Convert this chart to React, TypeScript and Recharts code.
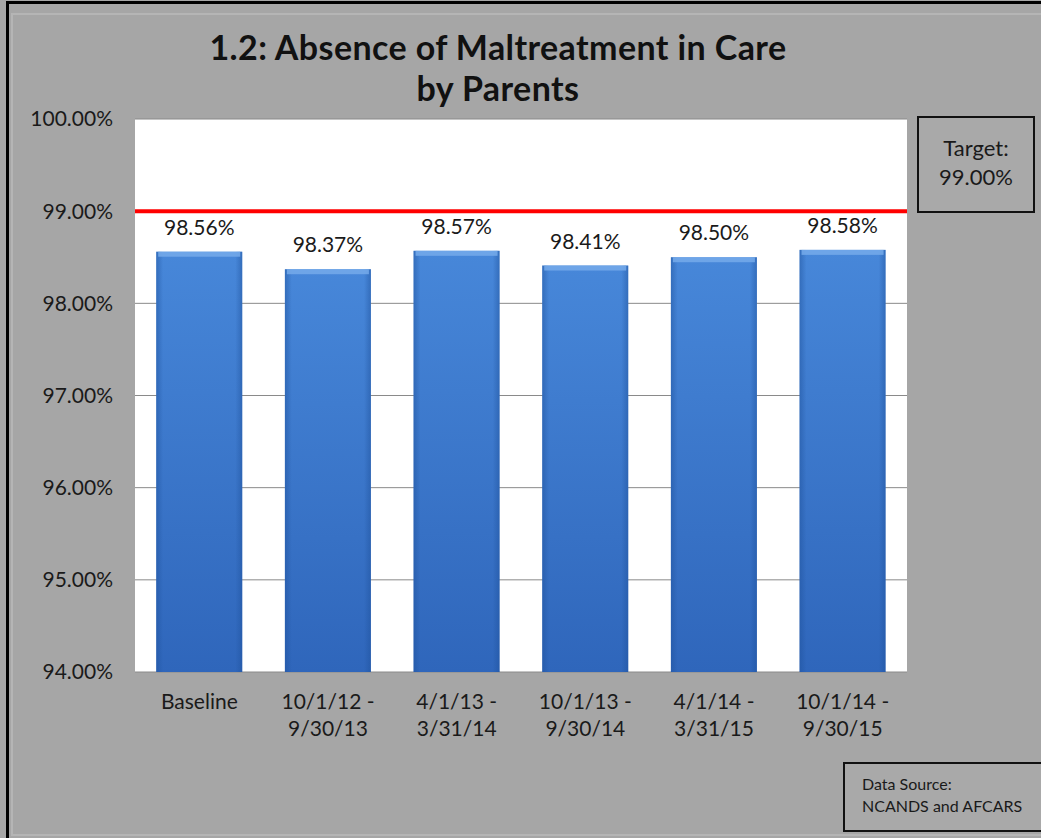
import React from "react";
import { BarChart, Bar, XAxis, YAxis, CartesianGrid, ReferenceLine, LabelList } from "recharts";

const categories = ["Baseline", "10/1/12 -\n9/30/13", "4/1/13 -\n3/31/14", "10/1/13 -\n9/30/14", "4/1/14 -\n3/31/15", "10/1/14 -\n9/30/15"];
const values = [98.56, 98.37, 98.57, 98.41, 98.5, 98.58];
const yTicks = [94, 95, 96, 97, 98, 99, 100];
const target = 99;

const data = categories.map((c, i) => ({ name: c, value: values[i] }));

const FONT = "Lato, 'Open Sans', sans-serif";

const XTick = (props: any) => {
  const { x, y, payload } = props;
  const lines = String(payload.value).split("\n");
  return (
    <text x={x} y={y} textAnchor="middle" fill="#1a1a1a" fontSize={21} fontFamily={FONT}>
      {lines.map((l, i) => (
        <tspan key={i} x={x} dy={i === 0 ? 29 : 27}>
          {l}
        </tspan>
      ))}
    </text>
  );
};

const BarShape = (props: any) => {
  const { x, y, width, height } = props;
  return (
    <g>
      <rect x={x} y={y} width={width} height={height} fill="url(#barGrad)" />
      <rect x={x} y={y} width={width} height={height} fill="url(#barEdge)" />
      <rect x={x + 2} y={y} width={width - 4} height={5} fill="#76aaea" opacity={0.85} />
    </g>
  );
};

export default function App() {
  return (
    <div
      style={{
        position: "absolute",
        left: 0,
        top: 0,
        width: 1041,
        height: 838,
        background: "#a6a6a6",
        overflow: "hidden",
        fontFamily: FONT,
      }}
    >
      <div style={{ position: "absolute", left: 6, top: 1, width: 1100, height: 900, borderLeft: "3px solid #000", borderTop: "3px solid #000" }} />
      <div style={{ position: "absolute", left: 11, top: 13, width: 1100, height: 819, border: "2px solid #b5b5b5" }} />
      <div
        style={{
          position: "absolute",
          left: 0,
          width: 996,
          top: 26,
          textAlign: "center",
          fontWeight: 700,
          fontSize: 34,
          letterSpacing: 0.4,
          lineHeight: "41px",
          color: "#111",
        }}
      >
        1.2: Absence of Maltreatment in Care
        <br />
        by Parents
      </div>
      <div style={{ position: "absolute", left: 0, top: 0 }}>
        <BarChart
          width={1041}
          height={838}
          data={data}
          margin={{ top: 119, right: 134, bottom: 106, left: 75 }}
          barCategoryGap="16.5%"
        >
          <defs>
            <linearGradient id="barGrad" x1="0" y1="0" x2="0" y2="1">
              <stop offset="0%" stopColor="#4787d9" />
              <stop offset="100%" stopColor="#2f66bb" />
            </linearGradient>
            <linearGradient id="barEdge" x1="0" y1="0" x2="1" y2="0">
              <stop offset="0%" stopColor="#1d4f98" stopOpacity={0.45} />
              <stop offset="8%" stopColor="#1d4f98" stopOpacity={0} />
              <stop offset="92%" stopColor="#1d4f98" stopOpacity={0} />
              <stop offset="100%" stopColor="#1d4f98" stopOpacity={0.45} />
            </linearGradient>
          </defs>
          <CartesianGrid vertical={false} fill="#ffffff" stroke="#8a8a8a" strokeWidth={1} />
          <XAxis
            dataKey="name"
            height={60}
            axisLine={false}
            tickLine={false}
            interval={0}
            tick={<XTick />}
          />
          <YAxis
            width={60}
            domain={[94, 100]}
            ticks={yTicks}
            axisLine={false}
            tickLine={false}
            tickMargin={16}
            tickFormatter={(v: number) => v.toFixed(2) + "%"}
            tick={{ fill: "#1a1a1a", fontSize: 21, fontFamily: FONT }}
          />
          <Bar dataKey="value" isAnimationActive={false} shape={<BarShape />}>
            <LabelList
              dataKey="value"
              position="top"
              offset={17}
              formatter={(v: number) => v.toFixed(2) + "%"}
              style={{ fill: "#1a1a1a", fontSize: 21, fontFamily: FONT }}
            />
          </Bar>
          <ReferenceLine y={target} stroke="#ff0000" strokeWidth={4} ifOverflow="extendDomain" />
        </BarChart>
      </div>
      <div
        style={{
          position: "absolute",
          left: 917,
          top: 116,
          width: 118,
          height: 97,
          border: "2px solid #111",
          background: "#a9a9a9",
          textAlign: "center",
          fontSize: 22,
          lineHeight: "29px",
          paddingTop: 15,
          boxSizing: "border-box",
          color: "#1a1a1a",
        }}
      >
        Target:
        <br />
        99.00%
      </div>
      <div
        style={{
          position: "absolute",
          left: 843,
          top: 762,
          width: 200,
          height: 70,
          border: "2px solid #111",
          background: "#a9a9a9",
          fontSize: 16,
          lineHeight: "22px",
          paddingLeft: 17,
          paddingTop: 9,
          boxSizing: "border-box",
          color: "#1a1a1a",
        }}
      >
        Data Source:
        <br />
        NCANDS and AFCARS
      </div>
    </div>
  );
}
